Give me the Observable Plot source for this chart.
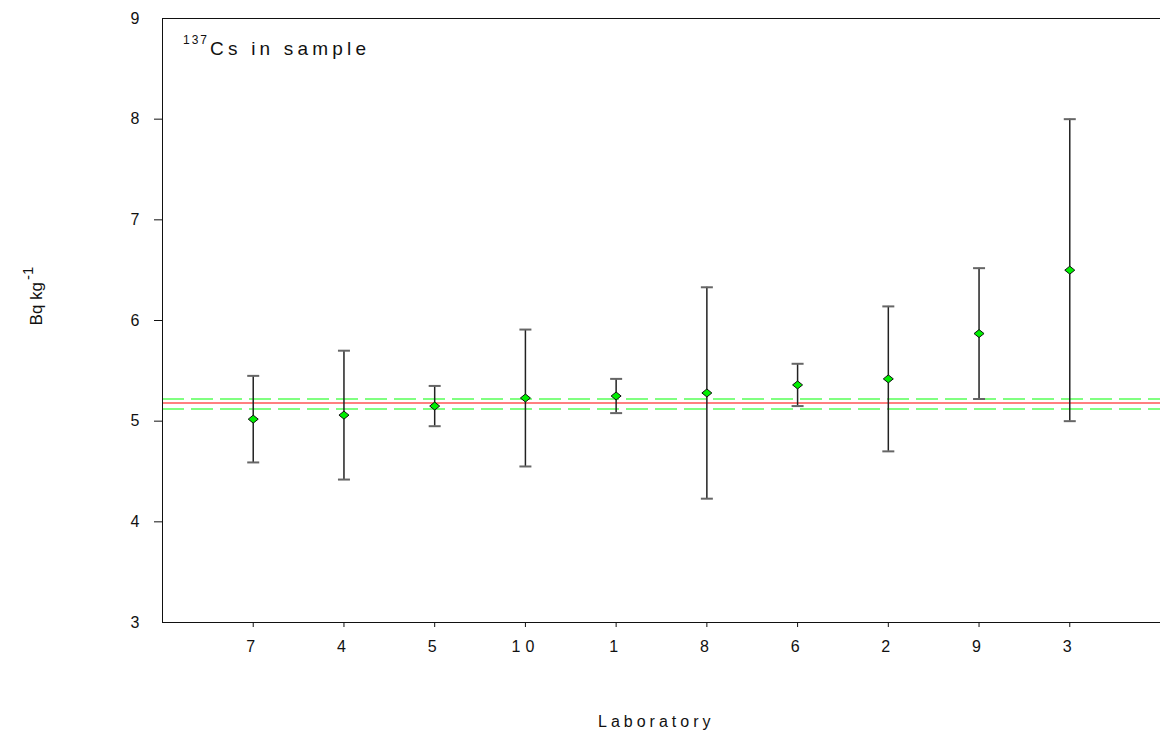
<!DOCTYPE html>
<html>
<head>
<meta charset="utf-8">
<script src="https://cdn.jsdelivr.net/npm/d3@7"></script>
<script src="https://cdn.jsdelivr.net/npm/@observablehq/plot@0.6"></script>
<style>
  html, body { margin: 0; padding: 0; background: #fff; }
  #chart svg { font-family: Arial, "Liberation Sans", sans-serif; }
  #chart .xax text { letter-spacing: 5px; }
</style>
</head>
<body>
<div id="chart"></div>
<script>
// ---- data ----
const labs = ["7", "4", "5", "10", "1", "8", "6", "2", "9", "3"];
const values = [5.02, 5.06, 5.15, 5.23, 5.25, 5.28, 5.36, 5.42, 5.87, 6.50];
const uncertainties = [0.43, 0.64, 0.20, 0.68, 0.17, 1.05, 0.21, 0.72, 0.65, 1.50];
const referenceValue = 5.18;
const referenceBand = [5.12, 5.22];
const yTicks = [3, 4, 5, 6, 7, 8, 9];
const titleSup = "137";
const titleText = "Cs in sample";
const xLabel = "Laboratory";
const yLabel = "Bq kg";
const yLabelSup = "-1";

const rows = labs.map((lab, k) => ({
  pos: k + 1, lab, v: values[k], lo: values[k] - uncertainties[k], hi: values[k] + uncertainties[k]
}));

const capSymbol = {
  draw(ctx, size) {
    const w = 6;
    ctx.moveTo(-w, 0); ctx.lineTo(w, 0);
  }
};
const diamondSymbol = {
  draw(ctx, size) {
    const w = 5, h = 4;
    ctx.moveTo(0, -h); ctx.lineTo(w, 0); ctx.lineTo(0, h); ctx.lineTo(-w, 0); ctx.closePath();
  }
};

const chart = Plot.plot({
  width: 1160,
  height: 736,
  marginLeft: 162,
  marginRight: 0,
  marginTop: 18,
  marginBottom: 114,
  x: { domain: [0, labs.length + 1] },
  y: { domain: [3, 9] },
  marks: [
    Plot.ruleY([referenceBand[1], referenceBand[0]], { stroke: "#80ff80", strokeWidth: 2, strokeDasharray: "22,7" }),
    Plot.ruleY([referenceValue], { stroke: "#ff8080", strokeWidth: 2 }),
    Plot.ruleX(rows, { x: "pos", y1: "lo", y2: "hi", stroke: "#222", strokeWidth: 1.5 }),
    Plot.dot(rows, { x: "pos", y: "hi", symbol: capSymbol, stroke: "#666", strokeWidth: 2, r: 5 }),
    Plot.dot(rows, { x: "pos", y: "lo", symbol: capSymbol, stroke: "#666", strokeWidth: 2, r: 5 }),
    Plot.dot(rows, { x: "pos", y: "v", symbol: diamondSymbol, fill: "#00f000", stroke: "#111", strokeWidth: 1, r: 4 }),
    Plot.ruleX([0], { y1: 3, y2: 9, stroke: "#111", strokeWidth: 1 }),
    Plot.ruleY([3, 9], { stroke: "#111", strokeWidth: 1 }),
    Plot.axisY({ ticks: yTicks.slice(1, -1), tickSize: 8, text: null, stroke: "#111" }),
    Plot.axisY({ ticks: yTicks, tickFormat: d => String(d), tickSize: 0, tickPadding: 23, fontSize: 16, label: null, fill: "#111" }),
    Plot.axisX({ ticks: rows.map(r => r.pos), tickFormat: d => labs[d - 1], tickSize: 5, tickPadding: 13, fontSize: 16, label: null, className: "xax", stroke: "#111", fill: "#111" })
  ]
});

document.getElementById("chart").appendChild(chart);

const svg = d3.select(chart);
// title
const t = svg.append("text").attr("x", 183).attr("y", 55).attr("fill", "#111")
  .attr("text-anchor", "start");
t.append("tspan").attr("font-size", 12).attr("dy", -11).style("letter-spacing", "2px").text(titleSup);
t.append("tspan").attr("font-size", 19).attr("dy", 11).attr("dx", 1).style("letter-spacing", "4.2px").text(titleText);
// x label
svg.append("text").attr("x", 598).attr("y", 727).attr("font-size", 16).attr("fill", "#111")
  .attr("text-anchor", "start").style("letter-spacing", "4px").text(xLabel);
// y label
const yl = svg.append("text").attr("transform", "translate(42,296) rotate(-90)")
  .attr("text-anchor", "middle").attr("fill", "#111").attr("font-size", 17);
yl.append("tspan").text(yLabel);
yl.append("tspan").attr("font-size", 15).attr("dy", -9).attr("dx", 2).text(yLabelSup);
</script>
</body>
</html>
